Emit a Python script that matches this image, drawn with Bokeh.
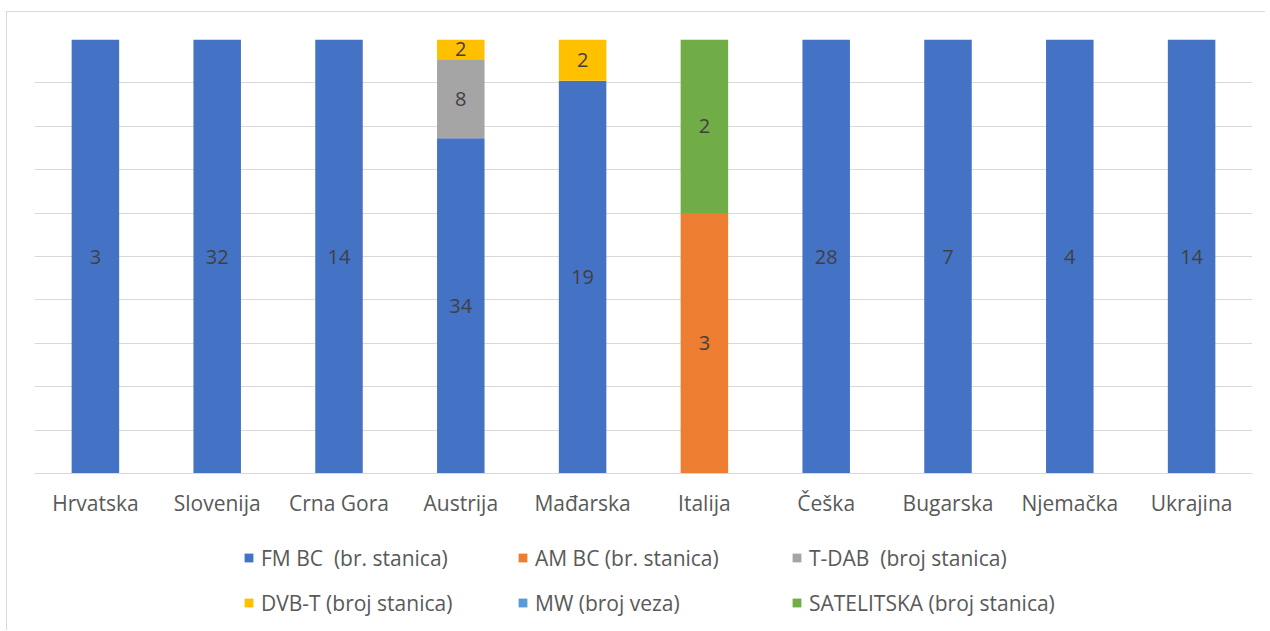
from bokeh.plotting import figure
from bokeh.models import ColumnDataSource, Legend, LegendItem, FixedTicker, Range1d, LabelSet
from bokeh.layouts import column
from bokeh.core.properties import value
from bokeh.embed import file_html
from bokeh.resources import INLINE

countries = ["Hrvatska", "Slovenija", "Crna Gora", "Austrija", "Mađarska",
             "Italija", "Češka", "Bugarska", "Njemačka", "Ukrajina"]
fm_bc = [3, 32, 14, 34, 19, 0, 28, 7, 4, 14]
am_bc = [0, 0, 0, 0, 0, 3, 0, 0, 0, 0]
t_dab = [0, 0, 0, 8, 0, 0, 0, 0, 0, 0]
dvb_t = [0, 0, 0, 2, 2, 0, 0, 0, 0, 0]
mw = [0, 0, 0, 0, 0, 0, 0, 0, 0, 0]
satelitska = [0, 0, 0, 0, 0, 2, 0, 0, 0, 0]

series_names = ["FM BC  (br. stanica)", "AM BC (br. stanica)", "T-DAB  (broj stanica)",
                "DVB-T (broj stanica)", "MW (broj veza)", "SATELITSKA (broj stanica)"]
series_values = [fm_bc, am_bc, t_dab, dvb_t, mw, satelitska]
colors = ["#4472C4", "#ED7D31", "#A5A5A5", "#FFC000", "#5B9BD5", "#70AD47"]

keys = ["s%d" % i for i in range(len(series_values))]
totals = [sum(v[j] for v in series_values) for j in range(len(countries))]
data = {"country": countries}
for k, vals in zip(keys, series_values):
    data[k] = [vals[j] / totals[j] for j in range(len(countries))]
source = ColumnDataSource(data)

FONT = "Open Sans"
W = 1258

p = figure(x_range=countries, y_range=Range1d(0, 1), width=W, height=511,
           output_backend="svg", toolbar_location=None,
           min_border_left=27, min_border_right=13, min_border_top=27, min_border_bottom=50)
p.outline_line_color = None
p.background_fill_color = "white"
p.border_fill_color = "white"

renderers = p.vbar_stack(keys, x="country", width=0.39, source=source,
                         color=colors, line_color=None)

# data labels at the middle of every non-empty segment
lx, ly, lt = [], [], []
for j, c in enumerate(countries):
    cum = 0.0
    for vals in series_values:
        f = vals[j] / totals[j]
        if vals[j] > 0:
            lx.append(c)
            ly.append(cum + f / 2)
            lt.append(str(vals[j]))
        cum += f
lsrc = ColumnDataSource(dict(x=lx, y=ly, t=lt))
labels = LabelSet(x="x", y="y", text="t", source=lsrc, text_align="center",
                  text_baseline="middle", text_font=value(FONT), text_font_size="20px",
                  text_color="#404040")
p.add_layout(labels)

# axes and grid
p.yaxis.visible = False
p.yaxis.ticker = FixedTicker(ticks=[i / 10 for i in range(11)])
p.ygrid.grid_line_color = "#d9d9d9"
p.ygrid.grid_line_width = 1
p.xgrid.grid_line_color = None
p.xaxis.axis_line_color = "#d9d9d9"
p.xaxis.major_tick_line_color = None
p.xaxis.minor_tick_line_color = None
p.xaxis.major_tick_out = 0
p.xaxis.major_tick_in = 0
p.xaxis.major_label_standoff = 15
p.xaxis.major_label_text_font = FONT
p.xaxis.major_label_text_font_size = "21px"
p.xaxis.major_label_text_color = "#595959"
p.x_range.range_padding = 0

# legend in its own strip below the chart (proxy renderers draw nothing visible)
q = figure(width=W, height=107, output_backend="svg", toolbar_location=None,
           x_range=Range1d(0, 1), y_range=Range1d(0, 1),
           min_border_left=0, min_border_right=0, min_border_top=0, min_border_bottom=0)
q.axis.visible = False
q.grid.visible = False
q.outline_line_color = None
legend_renderers = []
for c in colors:
    proxy = ColumnDataSource(dict(x=[0], top=[0]))
    legend_renderers.append(q.vbar(x="x", top="top", bottom=0, width=0, source=proxy,
                                   fill_color=c, line_color=None))
items = [LegendItem(label=n, renderers=[r]) for n, r in zip(series_names, legend_renderers)]
legend = Legend(items=items, ncols=3, orientation="horizontal", location=(209, 9),
                glyph_width=11, glyph_height=11, label_standoff=7, label_width=248,
                label_height=37, spacing=8, padding=0, margin=0,
                border_line_color=None, background_fill_alpha=0,
                label_text_font=FONT, label_text_font_size="21px",
                label_text_color="#595959")
q.add_layout(legend, "center")

layout = column(p, q, spacing=0)
layout.styles = {"margin-left": "6px", "margin-top": "11px",
                 "border-top": "1px solid #d9d9d9", "border-left": "1px solid #d9d9d9"}

open("out.html", "w").write(file_html(layout, INLINE))
